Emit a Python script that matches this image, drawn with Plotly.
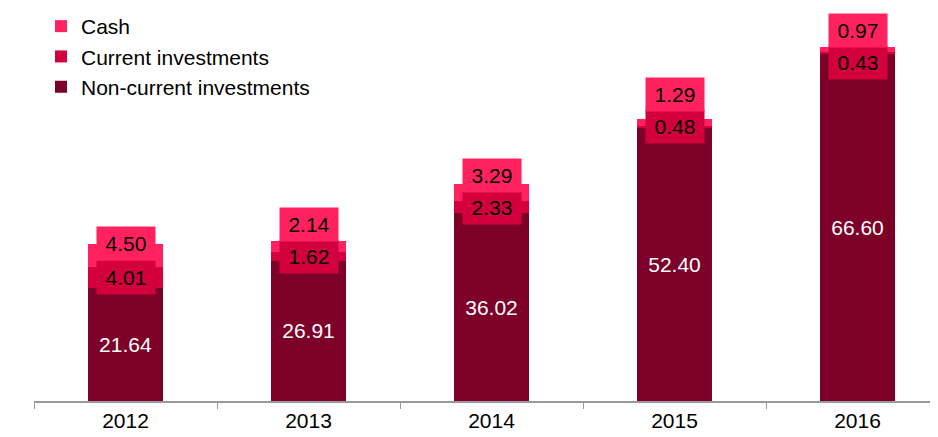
import plotly.graph_objects as go

years = ["2012", "2013", "2014", "2015", "2016"]
non_current = [21.64, 26.91, 36.02, 52.40, 66.60]
current = [4.01, 1.62, 2.33, 0.48, 0.43]
cash = [4.50, 2.14, 3.29, 1.29, 0.97]

C_CASH = "#FF225F"
C_CUR = "#D2003D"
C_NC = "#7C0028"

# page body has an 8px margin, so the figure is drawn offset by 8px
OFF = 8
W, H = 938, 437
M_T, M_B, M_L = 26 - OFF, 36 + OFF, 34 - OFF
Y_MAX = 72.0
PLOT_H = H - M_T - M_B
PLOT_W = W - M_L
S = PLOT_H / Y_MAX  # px per unit
BASE = H - M_B
CAT_W = 183.0
FS = 21


def to_px(v):
    return BASE - v * S


def to_val(p):
    return (BASE - p) / S


FONT = "Liberation Sans, Arial"

fig = go.Figure()
fig.add_trace(go.Bar(
    x=years, y=non_current, name="Non-current investments",
    marker=dict(color=C_NC, line=dict(width=0)), width=0.41,
    text=[f"{v:.2f}" for v in non_current], textposition="inside",
    insidetextanchor="middle", textangle=0,
    textfont=dict(color="white", size=FS, family=FONT),
    legendrank=3, legendgroup="nc", hoverinfo="skip",
))
fig.add_trace(go.Bar(
    x=years, y=current, name="Current investments",
    marker=dict(color=C_CUR, line=dict(width=0)), width=0.41,
    legendrank=2, legendgroup="cur", hoverinfo="skip",
))
fig.add_trace(go.Bar(
    x=years, y=cash, name="Cash",
    marker=dict(color=C_CASH, line=dict(width=0)), width=0.41,
    legendrank=1, legendgroup="cash", hoverinfo="skip",
))

GAP = 32
TOPMIN = 30 - OFF
annotations = []
for i, yr in enumerate(years):
    nc, cu, ca = non_current[i], current[i], cash[i]
    total = nc + cu + ca
    cur_c = to_px(nc + cu / 2)
    cash_c = min(to_px(total), cur_c - GAP)
    if cash_c < TOPMIN:
        cash_c = TOPMIN
        cur_c = max(cur_c, cash_c + GAP)
    for val, pc, col in ((cu, cur_c, C_CUR), (ca, cash_c, C_CASH)):
        annotations.append(dict(
            x=i, y=to_val(pc), xref="x", yref="y",
            text=f"{val:.2f}", showarrow=False,
            font=dict(color="black", size=FS, family=FONT),
            bgcolor=col, borderpad=3, width=52, height=27,
            xanchor="center", yanchor="middle",
        ))

fig.update_layout(
    width=W, height=H,
    barmode="stack",
    paper_bgcolor="white", plot_bgcolor="white",
    margin=dict(l=M_L, r=0, t=M_T, b=M_B, autoexpand=False),
    font=dict(family=FONT, color="black"),
    showlegend=True,
    legend=dict(
        x=(41 - OFF - M_L) / PLOT_W, y=1 + (M_T + 2) / PLOT_H,
        xanchor="left", yanchor="top",
        traceorder="grouped", tracegroupgap=0,
        font=dict(size=FS, family=FONT, color="black"),
        bgcolor="rgba(0,0,0,0)",
    ),
    xaxis=dict(
        type="category", range=[-0.5, -0.5 + PLOT_W / CAT_W],
        tickson="boundaries", ticks="outside", ticklen=6, tickcolor="#999999",
        showline=True, linecolor="#999999", linewidth=2,
        showgrid=False, tickfont=dict(size=FS, color="black"),
        fixedrange=True,
    ),
    yaxis=dict(range=[0, Y_MAX], visible=False, showgrid=False, fixedrange=True),
    annotations=annotations,
)

fig.write_html("out.html")
